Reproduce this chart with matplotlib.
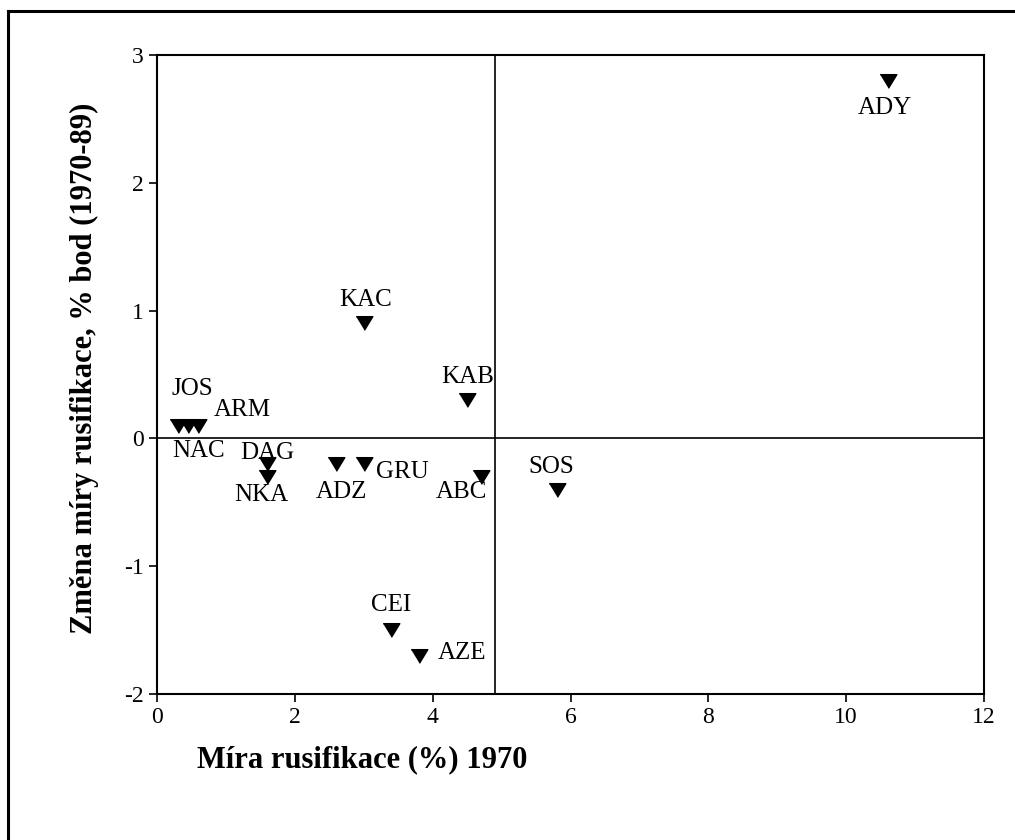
import matplotlib
matplotlib.use("Agg")
from matplotlib import pyplot as plt
from matplotlib.lines import Line2D

plt.rcParams['font.family'] = ['Liberation Serif', 'DejaVu Serif']
plt.rcParams['axes.unicode_minus'] = False

# data
codes = ['ADY', 'KAC', 'KAB', 'JOS', 'NAC', 'ARM', 'DAG', 'NKA',
         'ADZ', 'GRU', 'ABC', 'SOS', 'CEI', 'AZE']
rusif_1970 = [10.6, 3.0, 4.5, 0.3, 0.45, 0.6, 1.6, 1.6,
              2.6, 3.0, 4.7, 5.8, 3.4, 3.8]
change_70_89 = [2.8, 0.9, 0.3, 0.1, 0.1, 0.1, -0.2, -0.3,
                -0.2, -0.2, -0.3, -0.4, -1.5, -1.7]

# label offsets from the marker, in pixels (x right, y up)
label_offsets = {
    'ADY': (-3, -27), 'KAC': (2, 23), 'KAB': (1, 23), 'JOS': (15, 37),
    'NAC': (11, -25), 'ARM': (44, 16), 'DAG': (0, 11), 'NKA': (-6, -18),
    'ADZ': (5, -28), 'GRU': (39, -8), 'ABC': (-19, -15), 'SOS': (-5, 23),
    'CEI': (0, 25), 'AZE': (43, 3),
}

fig = plt.figure(figsize=(10.15, 8.4), dpi=100)
ax = fig.add_axes([157 / 1015, 1 - 694 / 840, 827 / 1015, 639 / 840])

tri = [(-1, 0.82), (1, 0.82), (0, -0.82)]
ax.plot(rusif_1970, change_70_89, linestyle='none', marker=tri,
        markersize=12, color='black', zorder=3)

for code, x, y in zip(codes, rusif_1970, change_70_89):
    dx, dy = label_offsets[code]
    ax.annotate(code, (x, y), xytext=(dx, dy), textcoords='offset pixels',
                ha='center', va='center', fontsize=18)

ax.axhline(0, color='black', linewidth=1.2, zorder=1)
ax.axvline(4.9, color='black', linewidth=1.2, zorder=1)

ax.set_xlim(0, 12)
ax.set_ylim(-2, 3)
ax.set_xticks(range(0, 13, 2))
ax.set_yticks(range(-2, 4))
ax.tick_params(direction='out', length=5.5, width=1.2, pad=4,
               labelsize=17, colors='black')
for sp in ax.spines.values():
    sp.set_linewidth(1.5)

fig.text(362 / 1015, 1 - 760 / 840, 'Míra rusifikace (%) 1970',
         ha='center', va='center', fontsize=22, fontweight='bold')
fig.text(84 / 1015, 1 - 368 / 840, 'Změna míry rusifikace, % bod (1970-89)',
         ha='center', va='center', rotation=90, fontsize=22,
         fontweight='bold')

# outer frame (only left and top edges are visible)
fig.add_artist(Line2D([8 / 1015, 8 / 1015], [0, 1 - 11 / 840],
                      transform=fig.transFigure, color='black', linewidth=2.2))
fig.add_artist(Line2D([8 / 1015, 1], [1 - 11 / 840, 1 - 11 / 840],
                      transform=fig.transFigure, color='black', linewidth=2.2))

fig.savefig('out.png', dpi=100)
